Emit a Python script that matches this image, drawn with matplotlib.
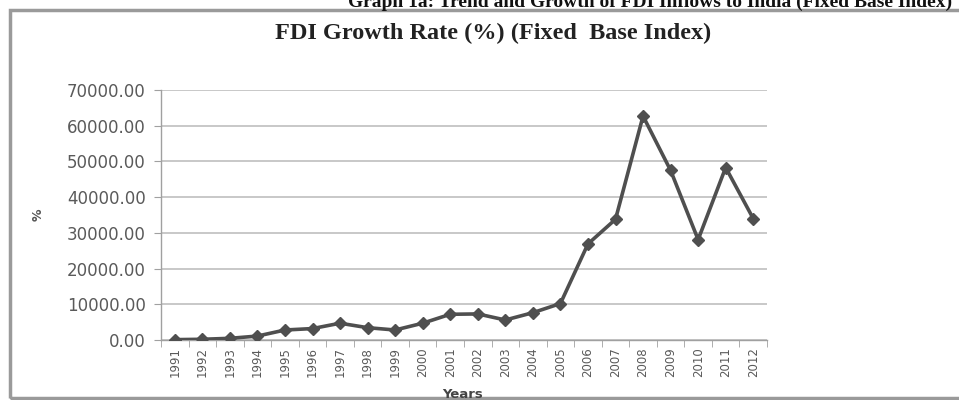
import matplotlib
matplotlib.use("Agg")
import matplotlib.pyplot as plt
from matplotlib.patches import Rectangle
import numpy as np

years = ["1991", "1992", "1993", "1994", "1995", "1996", "1997", "1998", "1999", "2000",
         "2001", "2002", "2003", "2004", "2005", "2006", "2007", "2008", "2009", "2010",
         "2011", "2012"]
growth = [100, 200, 470, 1100, 2800, 3200, 4700, 3450, 2800, 4700,
          7200, 7300, 5600, 7650, 10200, 26900, 33800, 62700, 47500, 28100,
          48300, 34000]
yticks = [0, 10000, 20000, 30000, 40000, 50000, 60000, 70000]

fig = plt.figure(figsize=(9.59, 4.0), dpi=100)
fig.patch.set_facecolor("white")

# chart frame
fig.patches.append(Rectangle((10 / 959, 2 / 400), 960 / 959, 388 / 400, transform=fig.transFigure,
                             fill=False, edgecolor="#9a9a9a", linewidth=2.5, zorder=0))

fig.text(0.993, 0.983, "Graph 1a: Trend and Growth of FDI Inflows to India (Fixed Base Index)",
         ha="right", va="baseline", fontsize=14, fontweight="bold",
         family="Liberation Serif", color="#111111")

ax = fig.add_axes([161 / 959, 60 / 400, 606 / 959, 250 / 400])
x = np.arange(len(years))
ax.plot(x, growth, color="#4f4f4f", linewidth=2.6, marker="D", markersize=6.5,
        markerfacecolor="#4f4f4f", markeredgecolor="#4f4f4f", zorder=3)

ax.set_xlim(-0.5, len(years) - 0.5)
ax.set_ylim(0, 70000)
ax.set_yticks(yticks)
ax.set_yticklabels([f"{v:.2f}" for v in yticks], fontsize=12, color="#5a5a5a",
                   family="DejaVu Sans")
ax.yaxis.grid(True, color="#c8c8c8", linewidth=1.4)
ax.set_axisbelow(True)

ax.set_xticks(x)
ax.set_xticklabels(years, rotation=90, fontsize=8.5, color="#5a5a5a", family="DejaVu Sans")
ax.tick_params(axis="x", which="major", length=0, pad=5)
ax.set_xticks(np.arange(-0.5, len(years), 1.0), minor=True)
ax.tick_params(axis="x", which="minor", length=5, color="#a0a0a0")
ax.tick_params(axis="y", length=5, color="#a0a0a0", pad=6)

for s in ["top", "right"]:
    ax.spines[s].set_visible(False)
for s in ["left", "bottom"]:
    ax.spines[s].set_color("#a0a0a0")
    ax.spines[s].set_linewidth(1.0)

fig.text(493 / 959, 1 - 33 / 400, "FDI Growth Rate (%) (Fixed  Base Index)",
         ha="center", va="center", fontsize=17.5, fontweight="bold",
         family="Liberation Serif", color="#222222")
fig.text(38 / 959, 1 - 215 / 400, "%", rotation=90, ha="center", va="center",
         fontsize=9, fontweight="bold", color="#555555")
fig.text(463 / 959, 1 - 395 / 400, "Years", ha="center", va="center",
         fontsize=9.5, fontweight="bold", color="#444444")

fig.savefig("out.png", dpi=100, facecolor="white")
